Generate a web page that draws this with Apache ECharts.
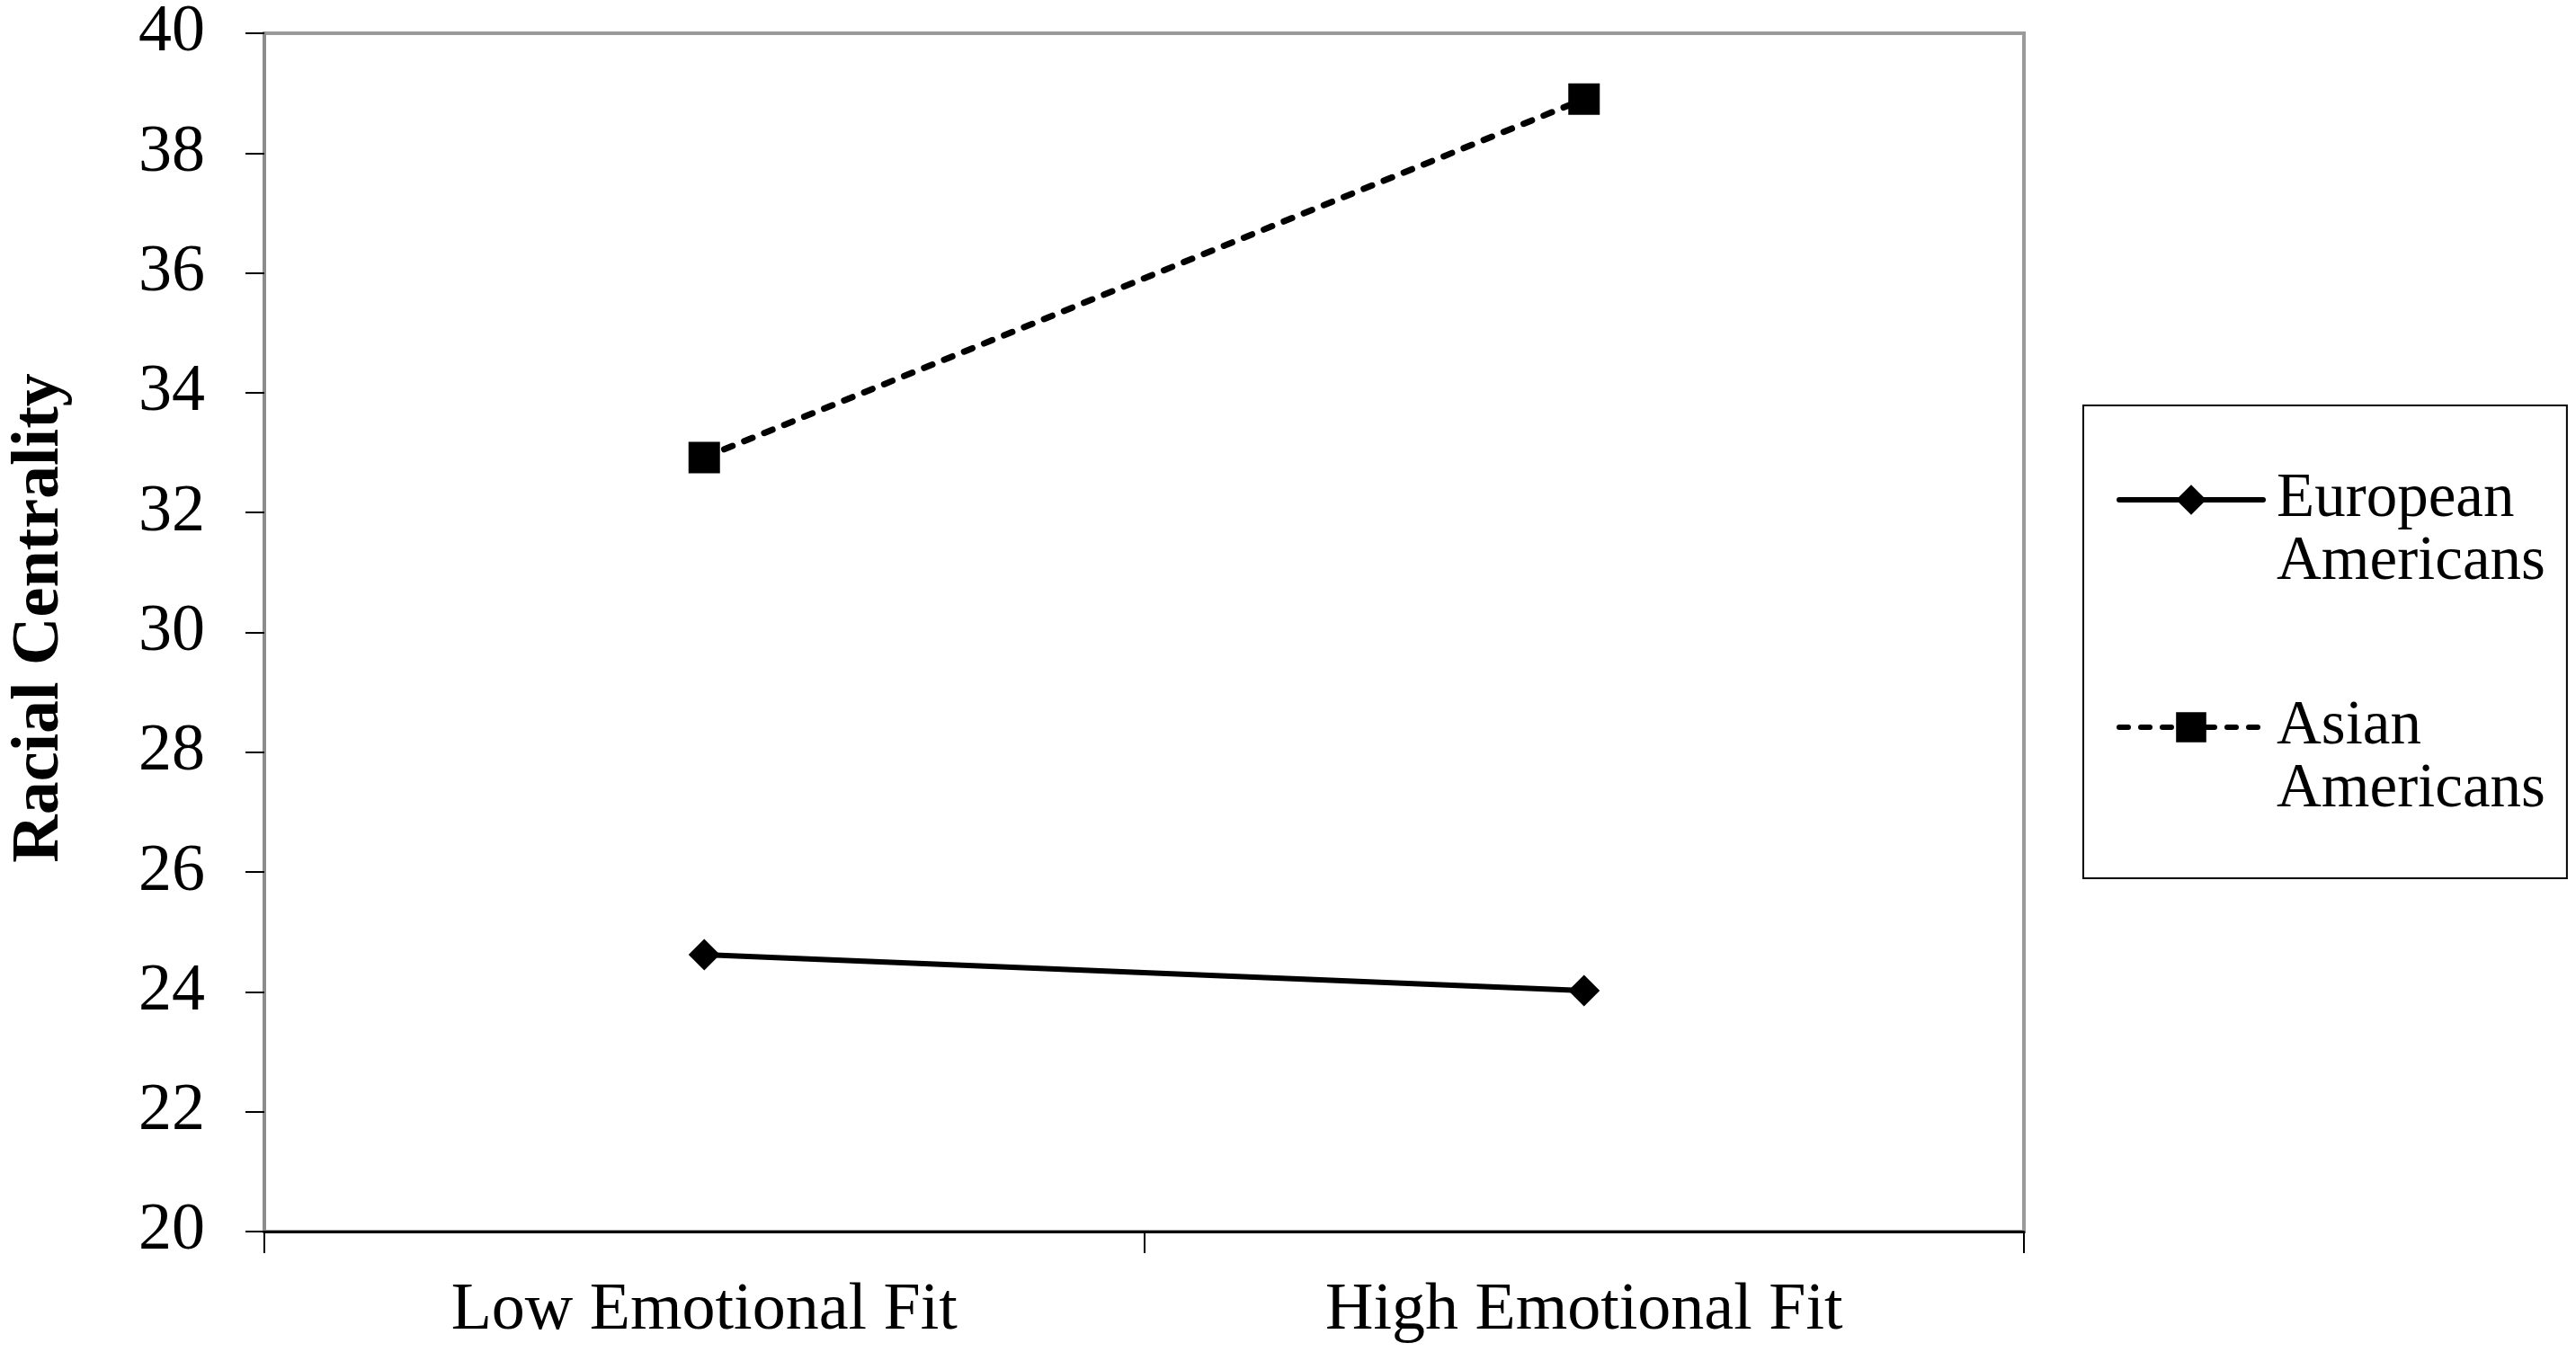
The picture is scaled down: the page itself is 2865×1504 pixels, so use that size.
<!DOCTYPE html>
<html>
<head>
<meta charset="utf-8">
<script src="https://cdn.jsdelivr.net/npm/echarts@6/dist/echarts.min.js"></script>
<style>
html, body { margin: 0; padding: 0; background: #fff; }
#chart { width: 2865px; height: 1504px; }
</style>
</head>
<body>
<div id="chart"></div>
<script>
const categories = ['Low Emotional Fit', 'High Emotional Fit'];
const seriesNames = ['European\nAmericans', 'Asian\nAmericans'];
const europeanValues = [24.62, 24.02];
const asianValues = [32.92, 38.9];
const yAxisTitle = 'Racial Centrality';
const yMin = 20, yMax = 40, yInterval = 2;

const FONT = '"Liberation Serif", "Times New Roman", serif';
const chart = echarts.init(document.getElementById('chart'), null, { renderer: 'canvas' });

chart.setOption({
  backgroundColor: '#ffffff',
  animation: false,
  textStyle: { fontFamily: FONT, color: '#000' },
  grid: {
    left: 285, right: 614, top: 33, bottom: 134,
    show: true, borderColor: '#9a9a9a', borderWidth: 4, backgroundColor: 'transparent'
  },
  legend: {
    orient: 'vertical',
    left: 2317,
    top: 451,
    data: seriesNames,
    itemWidth: 160,
    itemHeight: 42,
    itemGap: 43,
    padding: [0, 24, 63, 37],
    borderColor: '#000',
    borderWidth: 2,
    backgroundColor: '#fff',
    lineStyle: { width: 6 },
    formatter: function (name) {
      return '{s| }\n' + name.split('\n').map(function (t) { return '{t|' + t + '}'; }).join('\n');
    },
    textStyle: {
      fontFamily: FONT, fontSize: 69, color: '#000', lineHeight: 70,
      padding: [0, 0, 0, 10],
      rich: {
        s: { fontSize: 10, lineHeight: 70, fontFamily: FONT },
        t: { fontSize: 69, lineHeight: 70, fontFamily: FONT, color: '#000' }
      }
    }
  },
  xAxis: {
    type: 'category',
    data: categories,
    boundaryGap: true,
    axisLine: { show: true, lineStyle: { color: '#000', width: 3 } },
    axisTick: { show: true, length: 24, lineStyle: { color: '#000', width: 2 } },
    axisLabel: { fontFamily: FONT, fontSize: 74, color: '#000', margin: 52 },
    splitLine: { show: false }
  },
  yAxis: {
    type: 'value',
    min: yMin, max: yMax, interval: yInterval,
    name: yAxisTitle,
    nameLocation: 'middle',
    nameGap: 212,
    nameTextStyle: { fontFamily: FONT, fontSize: 74, fontWeight: 'bold', color: '#000', padding: [0, 0, 0, 32] },
    axisLine: { show: true, lineStyle: { color: '#8c8c8c', width: 4 } },
    axisTick: { show: true, length: 21, lineStyle: { color: '#000', width: 2 } },
    axisLabel: { fontFamily: FONT, fontSize: 74, color: '#000', margin: 66 },
    splitLine: { show: false }
  },
  series: [
    {
      name: seriesNames[0],
      type: 'line',
      data: europeanValues,
      symbol: 'diamond',
      symbolSize: 35,
      itemStyle: { color: '#000' },
      lineStyle: { color: '#000', width: 6, type: 'solid', cap: 'round' },
      z: 3
    },
    {
      name: seriesNames[1],
      type: 'line',
      data: asianValues,
      symbol: 'rect',
      symbolSize: 35,
      itemStyle: { color: '#000' },
      lineStyle: { color: '#000', width: 7, type: [10, 14], cap: 'round' },
      z: 3
    }
  ]
});
</script>
</body>
</html>
